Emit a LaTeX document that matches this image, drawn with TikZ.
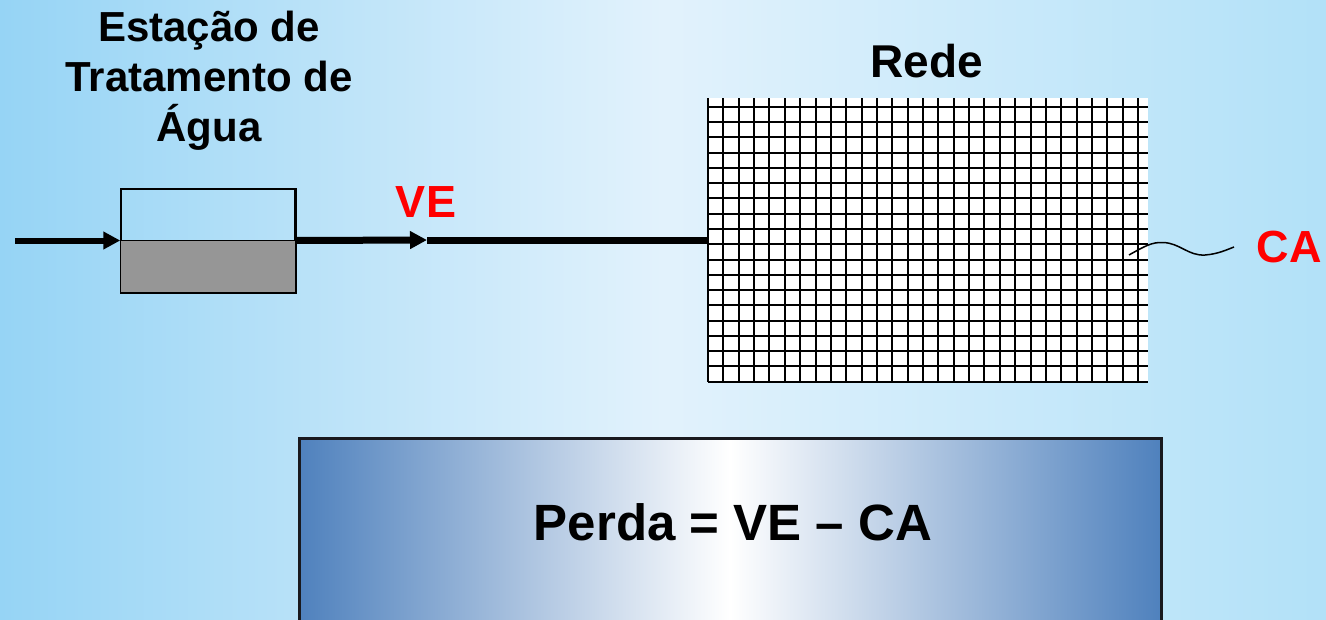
\documentclass[tikz,border=0pt]{standalone}
\usepackage{fontspec}
\setmainfont{Liberation Sans}
\usetikzlibrary{arrows.meta}
\definecolor{bgL}{RGB}{150,212,245}
\definecolor{bgM}{RGB}{226,242,252}
\definecolor{bgR}{RGB}{178,225,248}
\definecolor{boxblue}{RGB}{79,129,189}
\definecolor{tankgray}{RGB}{150,150,150}
\definecolor{vred}{RGB}{255,0,0}
\begin{document}
\begin{tikzpicture}[x=1pt,y=-1pt,
  title/.style={font=\fontsize{42}{50}\selectfont\bfseries, inner sep=0pt, align=center},
  redlbl/.style={font=\fontsize{45}{50}\selectfont\bfseries, text=vred, inner sep=0pt},
  pipe/.style={line width=6pt},
  tip/.style={-{Triangle[length=17pt,width=17pt]}},
  gridline/.style={line width=2pt, black},
  tankbox/.style={draw=black, line width=1.5pt, minimum width=174pt, minimum height=103pt, inner sep=0pt}
]
\path[clip] (0,0) rectangle (1326,619);
\shade[left color=bgL, right color=bgR, middle color=bgM] (0,0) rectangle (1326,619);

% title
\node[title, anchor=north] (ete) at (209,11) {Estação de\\Tratamento de\\Água};

% tank
\node[tankbox] (tank) at (208,240.5) {};
\fill[tankgray] (tank.west) rectangle (tank.south east);
\draw[line width=1.5pt] (tank.west) -- (tank.east);
\draw[line width=1.5pt] (tank.north west) rectangle (tank.south east);

% input arrow
\coordinate (src) at (15,240.5);
\draw[pipe, tip] (src) -- (tank.west);

% network grid
\node[fill=white, minimum width=440pt, minimum height=284pt, inner sep=0pt] (grid) at (928,240) {};
\foreach \k in {0,...,28}
  \draw[gridline] (708+15.36*\k,98) -- (708+15.36*\k,382);
\foreach \j in {0,...,18}
  \draw[gridline] (708,106.7+15.28*\j) -- (1148,106.7+15.28*\j);
\node[font=\fontsize{46}{50}\selectfont\bfseries, inner sep=0pt, anchor=base] (rede) at (927,77) {Rede};

% output pipe with mid arrow
\coordinate (mid) at (427,240);
\draw[pipe, line width=7pt, tip] (tank.east) -- (mid);
\draw[pipe, line width=7pt] (mid) -- (grid.west);
\node[redlbl, anchor=base] (ve) at (426,217) {VE};

% consumption
\coordinate (cstart) at (1129,255);
\node[redlbl, anchor=base] (ca) at (1289,262) {CA};
\draw[line width=1.5pt] (cstart) .. controls (1145,246) and (1152,242) .. (1163,242.5)
  .. controls (1180,243) and (1188,256) .. (1205,255)
  .. controls (1218,254) and (1226,250) .. (1234,247);

% formula box
\node[draw={rgb,255:red,25;green,25;blue,30}, line width=3pt, left color=boxblue, right color=boxblue, middle color=white,
  minimum width=862pt, minimum height=200pt, inner sep=0pt] (box) at (730,538) {};
\node[font=\fontsize{51}{55}\selectfont\bfseries, inner sep=0pt, anchor=base] (formula) at (733,540) {Perda = VE – CA};
\end{tikzpicture}
\end{document}
